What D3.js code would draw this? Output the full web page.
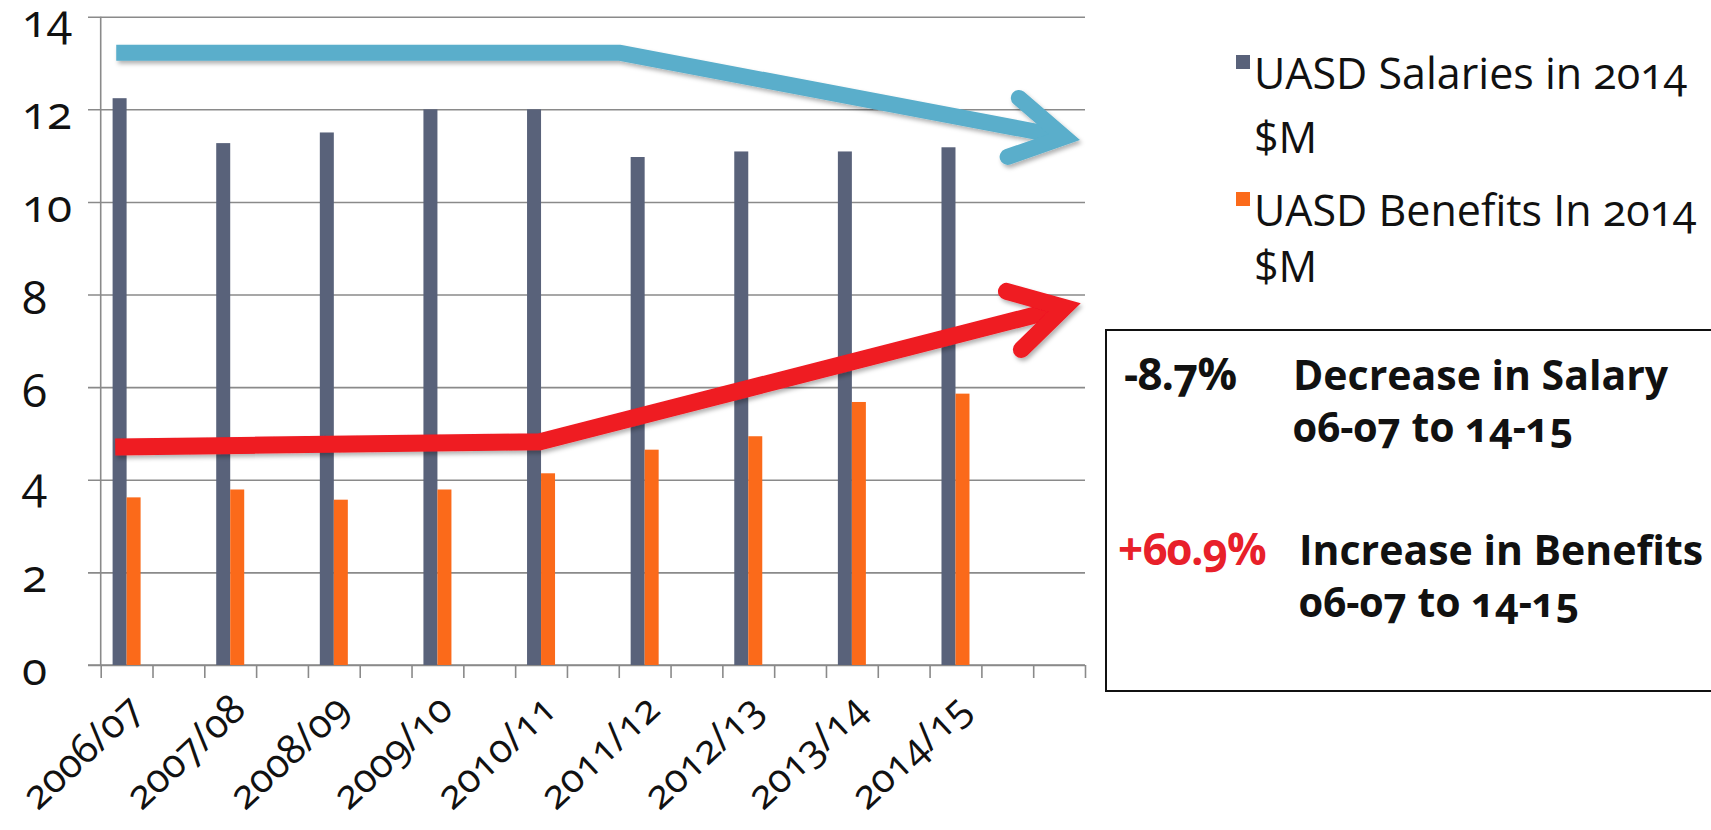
<!DOCTYPE html>
<html>
<head>
<meta charset="utf-8">
<script src="https://cdn.jsdelivr.net/npm/d3@7"></script>
<style>
  html, body { margin: 0; padding: 0; background: #fff; overflow: hidden; }
  svg { display: block; font-family: "Open Sans", sans-serif; font-variant-numeric: oldstyle-nums; }
</style>
</head>
<body>
<div id="chart"></div>
<script>
(function () {
    // --- data ---
    const years = ["2006/07", "2007/08", "2008/09", "2009/10", "2010/11", "2011/12", "2012/13", "2013/14", "2014/15"];
    const salaries = [12.24, 11.27, 11.5, 12.0, 12.0, 10.97, 11.09, 11.09, 11.18];
    const benefits = [3.62, 3.79, 3.57, 3.79, 4.14, 4.65, 4.94, 5.68, 5.86];
    const yTicks = [0, 2, 4, 6, 8, 10, 12, 14];
    const seriesNames = [["UASD Salaries in 2014", "$M"], ["UASD Benefits In 2014", "$M"]];

    // trend arrows drawn over the chart, in (category slot, $M)
    const blueArrow = [[0.3, 13.22], [10.03, 13.22], [18.6, 11.4]];
    const redArrow = [[0.28, 4.71], [8.48, 4.82], [18.6, 7.72]];

    const notes = [
        { pct: "-8.7%", text: ["Decrease in Salary", "06-07 to 14-15"], pctColor: "#111" },
        { pct: "+60.9%", text: ["Increase in Benefits", "06-07 to 14-15"], pctColor: "#e8202a" }
    ];

    const W = 1711, H = 830;
    const colors = { sal: "#59627a", ben: "#fb6a1a", blue: "#5aaecb", red: "#ef1a22", grid: "#8a8a8a" };
    const plot = { left: 100.7, right: 1085, top: 16.7, bottom: 665 };
    // the excel axis has an empty category between every year, plus two at the end
    const slotCount = 19;

    const svg = d3.select("#chart").append("svg").attr("width", W).attr("height", H);

    const defs = svg.append("defs");
    defs.append("filter").attr("id", "shadow").attr("x", "-10%").attr("y", "-10%").attr("width", "130%").attr("height", "160%")
        .append("feDropShadow").attr("dx", 2).attr("dy", 3).attr("stdDeviation", 2)
        .attr("flood-color", "#000").attr("flood-opacity", 0.3);

    const x = d3.scaleLinear().domain([0, slotCount]).range([plot.left, plot.right]);
    const y = d3.scaleLinear().domain([0, 14]).range([plot.bottom, plot.top]);
    const barW = 14;

    // gridlines + y labels (labels sit left-aligned in the reference)
    const yAxis = svg.append("g")
        .attr("transform", `translate(${plot.left},0)`)
        .call(d3.axisLeft(y).tickValues(yTicks).tickSizeInner(-(plot.right - plot.left)).tickSizeOuter(0));
    yAxis.select(".domain").remove();
    yAxis.selectAll(".tick line")
        .attr("x1", -12.7)
        .attr("stroke", colors.grid).attr("stroke-width", 1.6);
    yAxis.selectAll(".tick text")
        .attr("x", 22 - plot.left)
        .attr("text-anchor", "start")
        .attr("font-size", 46).attr("fill", "#111")
        .attr("font-family", "Open Sans, sans-serif")
        .attr("dy", "0.42em");

    // y axis line
    svg.append("line")
        .attr("x1", plot.left).attr("x2", plot.left)
        .attr("y1", plot.top).attr("y2", plot.bottom)
        .attr("stroke", colors.grid).attr("stroke-width", 1.6);

    // x axis ticks at category boundaries
    const xAxis = svg.append("g")
        .attr("transform", `translate(0,${plot.bottom})`)
        .call(d3.axisBottom(x).tickValues(d3.range(slotCount + 1)).tickSize(13).tickFormat(""));
    xAxis.select(".domain").attr("stroke", colors.grid).attr("stroke-width", 1.6)
        .attr("d", `M${plot.left - 12.7},0H${plot.right}`);
    xAxis.selectAll(".tick line").attr("stroke", colors.grid).attr("stroke-width", 1.6);

    // bars
    const slotOf = i => i * 2;
    svg.append("g").selectAll("rect").data(salaries).join("rect")
        .attr("x", (d, i) => x(slotOf(i) + 0.5) - barW)
        .attr("y", d => y(d))
        .attr("width", barW)
        .attr("height", d => y(0) - y(d))
        .attr("fill", colors.sal);
    svg.append("g").selectAll("rect").data(benefits).join("rect")
        .attr("x", (d, i) => x(slotOf(i) + 0.5))
        .attr("y", d => y(d))
        .attr("width", barW)
        .attr("height", d => y(0) - y(d))
        .attr("fill", colors.ben);

    // rotated category labels
    svg.append("g").selectAll("text").data(years).join("text")
        .attr("transform", (d, i) => `translate(${x(slotOf(i) + 0.5) + 8},${plot.bottom + 37}) rotate(-43)`)
        .attr("text-anchor", "end")
        .attr("dy", "0.35em")
        .attr("font-size", 40)
        .attr("fill", "#111")
        .text(d => d);

    // arrows
    function drawArrow(pts, color, width) {
        const p = pts.map(d => [x(d[0]), y(d[1])]);
        const tip = p[p.length - 1], prev = p[p.length - 2];
        const dx = prev[0] - tip[0], dy = prev[1] - tip[1];
        const len = Math.hypot(dx, dy);
        const ux = dx / len, uy = dy / len;
        const armLen = 60, ang = 30 * Math.PI / 180;
        const arm = s => [tip[0] + armLen * (ux * Math.cos(s * ang) - uy * Math.sin(s * ang)),
                          tip[1] + armLen * (ux * Math.sin(s * ang) + uy * Math.cos(s * ang))];
        const line = d3.line();
        const g = svg.append("g").attr("filter", "url(#shadow)");
        g.append("path").attr("d", line(p))
            .attr("fill", "none").attr("stroke", color).attr("stroke-width", width)
            .attr("stroke-linejoin", "round");
        g.append("path").attr("d", line([arm(1), tip, arm(-1)]))
            .attr("fill", "none").attr("stroke", color).attr("stroke-width", width)
            .attr("stroke-linejoin", "miter").attr("stroke-linecap", "round");
    }
    drawArrow(blueArrow, colors.blue, 16);
    drawArrow(redArrow, colors.red, 17);

    // legend
    const legend = svg.append("g");
    const legendRows = [[89, 153], [226, 282]];
    seriesNames.forEach((lines, i) => {
        legend.append("rect")
            .attr("x", 1236).attr("y", legendRows[i][0] - 34)
            .attr("width", 14).attr("height", 14)
            .attr("fill", i === 0 ? colors.sal : colors.ben);
        lines.forEach((t, j) => {
            legend.append("text")
                .attr("x", 1254).attr("y", legendRows[i][j])
                .attr("font-size", 43).attr("fill", "#111")
                .text(t);
        });
    });

    // note box
    svg.append("rect")
        .attr("x", 1106).attr("y", 330).attr("width", 700).attr("height", 361)
        .attr("fill", "#fff").attr("stroke", "#111").attr("stroke-width", 2);
    const noteRows = [{ y: 390, pctX: 1124, textX: 1293 }, { y: 565, pctX: 1118, textX: 1299 }];
    notes.forEach((n, i) => {
        const r = noteRows[i];
        svg.append("text").attr("x", r.pctX).attr("y", r.y)
            .attr("font-size", 44).attr("font-weight", 700).attr("fill", n.pctColor)
            .attr("letter-spacing", -1)
            .text(n.pct);
        n.text.forEach((t, j) => {
            svg.append("text").attr("x", r.textX).attr("y", r.y + j * 52)
                .attr("font-size", 41).attr("font-weight", 700).attr("fill", "#111")
                .text(t);
        });
    });
})();
</script>
</body>
</html>
